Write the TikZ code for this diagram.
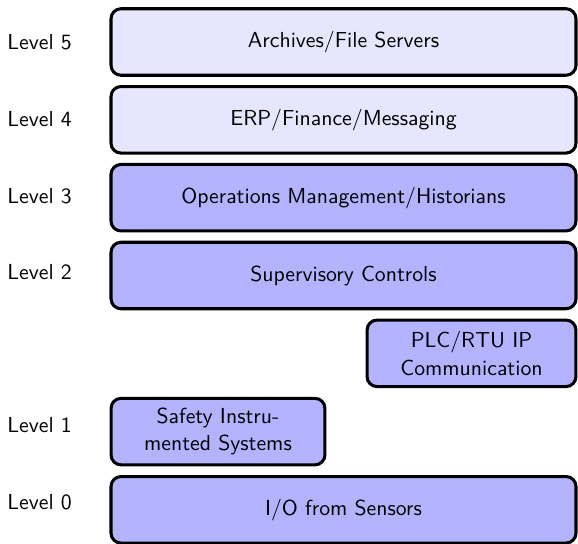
\documentclass[tikz,border=0pt]{standalone}
\usepackage{tikz}
\definecolor{tierlight}{RGB}{230,230,255}
\definecolor{tierdark}{RGB}{179,179,255}
\begin{document}
\begin{tikzpicture}[x=0.46pt,y=-0.46pt,
  font=\sffamily,
  tier/.style={draw=black, line width=1.4pt, rounded corners=4.6pt,
    minimum height=30.6pt, inner sep=0pt, align=center},
  wide/.style={tier, minimum width=213.9pt},
  lvl/.style={anchor=west, inner sep=0pt}]
\useasboundingbox (0,0) rectangle (578,543);

% level tags on the left
\node[lvl] (t5) at (7,42.5)  {Level 5};
\node[lvl] (t4) at (7,119.1) {Level 4};
\node[lvl] (t3) at (7,195.7) {Level 3};
\node[lvl] (t2) at (7,272.3) {Level 2};
\node[lvl] (t1) at (7,425.5) {Level 1};
\node[lvl] (t0) at (7,502.1) {Level 0};

% tier boxes
\node[wide, fill=tierlight] (l5) at (343.5,42)    {Archives/File Servers};
\node[wide, fill=tierlight] (l4) at (343.5,119.8) {ERP/Finance/Messaging};
\node[wide, fill=tierdark]  (l3) at (343.5,197.7) {Operations Management/Historians};
\node[wide, fill=tierdark]  (l2) at (343.5,275.5) {Supervisory Controls};
\node[tier, fill=tierdark, minimum width=96.1pt] (plc) at (471.5,353.3)
  {PLC/RTU IP\\[0.6pt]Communication};
\node[tier, fill=tierdark, minimum width=98.4pt] (sis) at (218,431.6)
  {Safety Instru-\\[0.6pt]mented Systems};
\node[wide, fill=tierdark]  (l0) at (343.5,509.8) {I/O from Sensors};
\end{tikzpicture}
\end{document}
